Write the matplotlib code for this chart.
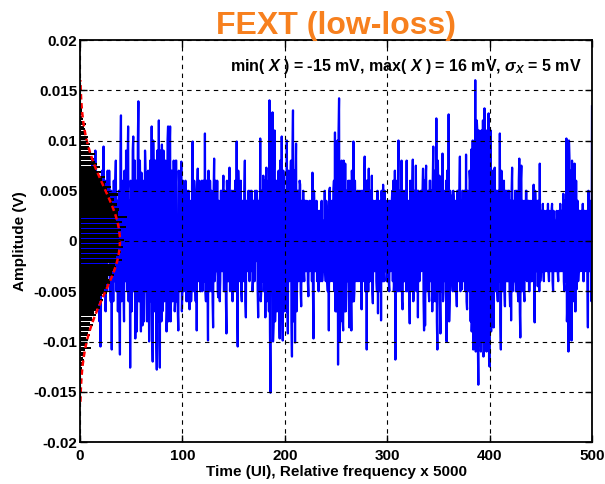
import numpy as np
import matplotlib
matplotlib.use("Agg")
import matplotlib.pyplot as plt

# ---------------- data (signal in mV) ----------------
# samples at integer UI (0..500)
seg_000_049 = [2, -4, 6, -3, 5, -6, 3, 7, -5, 1,
               -7, 4, 8, -2, -6, 9, 3, -4, 6, -8,
               -10.5, 2, 5, 9.4, -3, -7, 4, 7, -2, 3,
               -6, -10.8, 1, 6, -4, 8, 2, -7, 5, -11.3,
               12.5, -3, 6, -8, 3, 9, -5, 11.4, 4, -12.6]
seg_050_099 = [5, -4, 10.4, 2, -9.7, 6, -3, 13.9, -6, 4,
               6.8, -8.4, 3, -5, 7, 6.8, -4, 2, -7, 5,
               11.4, -12, 6, -3, 8, -12.8, 4, 12, -12.6, 3,
               9.6, -6, 5, -3, 7, -7, 11.4, -7.9, 11.4, -5,
               6, -3, 4, -6, 8, 2, -8.9, 5, -4, 7.9]
seg_100_149 = [-5, 4, -3, 6, -6, 3, 5, -6.8, 2, -4,
               9.9, -3, 5, -6, -8.9, 7.2, -2, 4, -5, 6,
               -4, 3, 10.7, -6, 5, -9.9, 2, 6, -5, 4,
               -8.6, 8.2, -3, 5, 6, -5.6, 3, -4, 5, -3,
               6.5, -5, 4, -9.2, 3, -4, 7.3, -2, 5, -6]
seg_150_199 = [4, -5, 3, 9.9, -10.5, 5, -3, 6, -6, 2,
               -4, 8, -7.6, 3, -2, 4, 5, -3, 4, -4,
               3, 5, -2, 4, -7.6, 2, 10.2, -5, 3, 6.5,
               -3, -7.6, 7.3, -4, 6, 14, -15.1, -3, 12.8, -8.4,
               11, -6, 4, -5, 7, -9.7, 5, 10.4, -9.9, 6]
seg_200_249 = [-4, 3, 10, -9.2, 5, -3, 8, -11.5, 13, -6,
               -10.1, 9.7, -4, 5, -3, 5.6, -6.5, 3, 5, -4,
               4, -3, 2, -5.5, 4, -2, 3, 6.8, -9.7, 3,
               -3, 4, -2, -5, 3, -4, 4, -3, 2, 5,
               -4, 3, -5, -8.9, 5.3, -3, 4, -2, 6, 10.8]
seg_250_299 = [4, -6, -12.3, 14.2, 7, -5, 3, -8.9, 4, 7.7,
               -4, 3, 6, -8.6, 2, -8.9, 4, 9.9, -5, 3,
               -3, 5, -2, 4, -4, -6.8, 5, -3, 8.4, -2,
               -10.8, 4, 7.2, -4, 3, 6.5, -6.2, 2, -3, 3.5,
               -5, -7.2, 4, -3, -7.9, 3, 5.6, -4, 2, 4]
seg_300_349 = [-3, 4, -5, 3, -2, 5, 6, -4, -11.8, 3,
               -5, 10, -3, 4, 8, -6.8, 3, -4, 5, 8,
               -4, 3, -8.2, 5, -3, 8.1, -5, 4, 7.5, -3,
               -7.6, 4, -3, 5, 2, 7.2, -8.9, -8.4, 7.5, -4,
               5, -6, 6, -3, -7, 9.4, -5, 6, 12.2, -10.8]
seg_350_399 = [4, 6.5, -9.2, 3, 8.7, -5, 4, -3, -10, 5,
               12.6, -6, 3, 4.5, -5, 4, -3, 3, -6.5, 5,
               -3, 8.4, -4, -4.8, 5, -3, 4, 8.6, -6.8, 3,
               -5, 6, 9.1, -7, -10.8, 7, 16, -6, 11, -14.3,
               -10.4, 8, 11, -7, -11.5, 13.2, -6, -11, 9, 12.7]
seg_400_449 = [-12.5, 11, -5, 6, -8.6, 7.3, -4, 5, -6, 4,
               10.7, -10.8, 5, -4, 6, -6.5, 3, 5, -4, 5,
               -6.5, -7.9, 7.3, -4, 3, 5, -5, 4, -6, 8.2,
               -9.6, 7.5, -4, 3, -6, -3.8, 5, -3, 4, -5,
               3, -4, 4, 5.6, -8.1, 3, -2, -4.5, 3, 7.7]
seg_450_500 = [-3, 2, 3.7, -4, 2, -3, 3, 3.7, -4, 2,
               -3, 3.7, -5, 2, 2, -3, 1, -4, 3, 3.7,
               -3, 2, 4.7, -5, 3, 10.2, -6, -11, 8.2, -5,
               -9.9, 5, -3, 7.7, -7, -4.8, 4, -3, 3, -2,
               2, 3.7, -4, 3, -2, 2, -8.6, 3, -3, 4, 13.4]

# samples at half UI (0.5 .. 499.5)
mid_000_049 = [-3, 5, 1, -5, 7, -2, -4, 2, 6, -5,
               5, -3, -4, 7, 2, -5, 6, 4, -6, 3,
               -4, 7, -5, 2, 6, -3, -5, 3, 7, -4,
               5, 3, -6, 2, 6, -5, 4, 2, -7, 8,
               -6, 4, -5, 7, -4, 2, 8, -6, 3, 6]
mid_050_099 = [-7, 9, -5, 8, 6, -9, 10, -6, 8, -9,
               -6, 6, -8, 9, -5, -8, 7, -10, 8, -6,
               -9, 10, -7, 8, -10, 9, -8, -10, 9, -8,
               -7, 9, -6, 8, -9, 10, -8, 9, -8, 7,
               -6, 8, -7, 8, -6, -7, 7, -5, 6, -7]
mid_100_149 = [6, -5, 4, -4, 5, -6, 3, 4, -6, 7,
               -5, 6, -4, 3, 5, -4, 6, -5, 3, -5,
               6, -4, -5, 6, -4, 7, -5, 3, 5, -6,
               5, -4, 6, -3, -5, 4, -6, 5, -3, 4,
               -5, 5, -6, 6, -4, 5, -5, 4, -5, 5]
mid_150_199 = [-4, 6, -5, -6, 7, -4, 5, -5, 4, -3,
               5, -6, 4, -3, 5, -4, 3, 5, -5, 4,
               -4, 2, 5, -5, 4, -5, -6, 5, -4, -5,
               6, 4, -6, 5, -7, -9, 8, 9, -10, 7,
               -8, 6, -7, 6, -7, 8, -6, -7, 7, -7]
mid_200_249 = [5, -7, -6, 7, -4, 6, -8, 9, -8, 7,
               6, -7, 5, -4, 6, -5, 4, -4, -3, 4,
               -3, 4, -4, 3, -3, 4, -4, -5, 5, -3,
               3, -4, 3, 2, -3, 3, -4, 2, -3, -3,
               4, -4, 3, 5, -4, 3, -4, 5, -5, -7]
mid_250_299 = [-7, 10, 11, -10, -8, 8, -8, 8, -7, -7,
               5, -4, -6, 6, -5, 7, -6, -6, 6, -4,
               4, -4, 5, -4, 5, 4, -4, 5, -5, 6,
               6, -5, -4, 5, -4, -5, 4, -3, 4, -4,
               5, 4, -5, 4, 5, -4, -4, 5, -3, -4]
mid_300_349 = [3, -4, 4, -3, 4, -4, -5, 7, 6, -4,
               6, -5, 5, -5, -6, 5, -4, 5, -5, -5,
               4, -5, 6, -5, 5, -6, 5, -4, -5, 5,
               5, -4, 4, -3, 5, -6, 6, 6, -5, 4,
               -5, 6, -4, 5, 6, -6, 7, -6, -8, 8]
mid_350_399 = [-5, -6, 6, -5, -6, 5, -4, 6, 7, -6,
               -8, 5, -4, -4, 5, -5, 4, -5, 5, -4,
               5, -5, 4, 5, -4, 5, -5, -6, 5, -4,
               7, -8, -9, 10, 8, -10, -11, 12, -10, 11,
               10, -11, -10, 12, -11, -10, 11, 9, -10, -12]
mid_400_449 = [10, -9, 7, -7, 7, -5, 5, -5, 5, -4,
               -8, 7, -5, 5, -5, 5, -4, -4, 5, -5,
               4, 5, -5, 4, -4, -5, 5, -5, 6, -7,
               6, -5, 4, -5, 4, 5, -4, 4, -5, 4,
               -4, 4, -4, -5, 5, -3, 4, 4, -5, -4]
mid_450_499 = [3, -3, -3, 3, -3, 3, -3, -3, 3, -3,
               3, -4, 3, -3, -3, 3, -3, 3, -3, -3,
               3, -3, -4, 4, -4, -8, 9, 10, -8, 7,
               8, -6, 5, -7, 6, 4, -4, 3, -3, 3,
               -3, -4, 3, -3, 3, -4, 5, -3, 3, -6]

# histogram: bins of 0.25 mV from -16 mV to +16 mV (relative frequency x 5000)
hist_bin_lo_mV = -16.0
hist_bin_hi_mV = 16.0
hist_values = [0, 0, 0, 0.3,
               0.4, 0.5, 0.6, 0.8,
               1.0, 1.2, 1.1, 1.5,
               1.8, 2.2, 1.9, 2.6,
               3.5, 2.8, 4.2, 3.6,
               4.4, 11, 5.0, 6.4,
               7.5, 6.2, 9.5, 8.0,
               10.5, 8.8, 12.8, 10.2,
               13.5, 12.0, 15.8, 14.0,
               16.0, 19.5, 17.2, 18.5,
               22.5, 19.8, 21.0, 26.5,
               23.5, 27.8, 25.5, 29.0,
               30.5, 27.2, 33.5, 31.0,
               32.0, 35.5, 33.8, 36.0,
               41.0, 35.5, 37.8, 40.5,
               37.5, 42.0, 38.0, 39.5,
               43.0, 38.5, 40.5, 37.0,
               39.8, 44.5, 36.5, 41.0,
               35.0, 46.0, 36.8, 37.5,
               38.0, 33.2, 36.5, 31.0,
               33.5, 29.0, 37.0, 28.5,
               26.0, 30.5, 24.5, 25.8,
               21.5, 24.0, 19.0, 20.5,
               15.8, 19.8, 17.0, 14.2,
               13.5, 11.5, 14.5, 10.8,
               10.2, 8.5, 9.8, 7.5,
               6.8, 8.2, 5.6, 6.0,
               4.8, 4.0, 5.5, 3.4,
               3.0, 2.4, 2.2, 1.8,
               1.7, 1.4, 1.2, 1.0,
               0.9, 0.7, 0.6, 0.5,
               0.4, 0.3, 0.2, 0.2]

# Gaussian fit parameters
fit_peak = 39.0
fit_sigma_mV = 5.3
fit_range_mV = 16.0

x_ticks = [0, 100, 200, 300, 400, 500]
y_ticks = [-0.02, -0.015, -0.01, -0.005, 0, 0.005, 0.01, 0.015, 0.02]
y_tick_labels = ["-0.02", "-0.015", "-0.01", "-0.005", "0", "0.005", "0.01", "0.015", "0.02"]

title_text = "FEXT (low-loss)"
xlabel_text = "Time (UI), Relative frequency x 5000"
ylabel_text = "Amplitude (V)"
annot_text = r"min( $X$ ) = -15 mV, max( $X$ ) = 16 mV, $\sigma_X$ = 5 mV"

# ---------------- styling ----------------
plt.rcParams['font.family'] = ['Liberation Sans', 'DejaVu Sans']
plt.rcParams['mathtext.fontset'] = 'custom'
plt.rcParams['mathtext.it'] = 'Liberation Sans:italic:bold'
plt.rcParams['mathtext.rm'] = 'Liberation Sans:bold'
plt.rcParams['mathtext.bf'] = 'Liberation Sans:bold'

fig = plt.figure(figsize=(6.05, 4.84), dpi=100)
ax = fig.add_axes([80 / 605, 42 / 484, 512 / 605, 402 / 484])

main_mV = (seg_000_049 + seg_050_099 + seg_100_149 + seg_150_199 + seg_200_249 +
           seg_250_299 + seg_300_349 + seg_350_399 + seg_400_449 + seg_450_500)
mid_mV = (mid_000_049 + mid_050_099 + mid_100_149 + mid_150_199 + mid_200_249 +
          mid_250_299 + mid_300_349 + mid_350_399 + mid_400_449 + mid_450_499)
signal_V = np.empty(len(main_mV) + len(mid_mV))
signal_V[0::2] = np.array(main_mV) * 1e-3
signal_V[1::2] = np.array(mid_mV) * 1e-3
time_ui = np.arange(len(signal_V)) * 0.5
ax.plot(time_ui, signal_V, color='#0000FF', lw=1.6, zorder=1)

edges = np.linspace(hist_bin_lo_mV, hist_bin_hi_mV, len(hist_values) + 1)
centers_V = 0.5 * (edges[:-1] + edges[1:]) * 1e-3
bin_w_V = (edges[1] - edges[0]) * 1e-3
ax.barh(centers_V, hist_values, height=bin_w_V * 0.9, color='black',
        linewidth=0, zorder=1.5)

yy = np.linspace(-fit_range_mV, fit_range_mV, 400)
ax.plot(fit_peak * np.exp(-yy ** 2 / (2 * fit_sigma_mV ** 2)), yy * 1e-3,
        color='red', ls=(0, (2.2, 1.4)), lw=1.8, zorder=2)

ax.set_xlim(0, 500)
ax.set_ylim(-0.02, 0.02)
ax.set_xticks(x_ticks)
ax.set_yticks(y_ticks)
ax.set_yticklabels(y_tick_labels)
ax.set_axisbelow(False)
ax.grid(True, ls=(0, (4, 4)), color='black', lw=0.8)
ax.tick_params(direction='in', top=True, right=True, length=5, width=1,
               labelsize=11)
ax.tick_params(axis='x', pad=5)
ax.tick_params(axis='y', pad=2)
for lbl in ax.get_xticklabels() + ax.get_yticklabels():
    lbl.set_fontweight('bold')
for sp in ax.spines.values():
    sp.set_linewidth(1.3)

ax.set_title(title_text, color='#F7801E', fontsize=23, fontweight='bold', pad=4)
ax.set_xlabel(xlabel_text, fontsize=11, fontweight='bold')
ax.xaxis.set_label_coords(0.5, -0.058)
ax.set_ylabel(ylabel_text, fontsize=11, fontweight='bold')
ax.yaxis.set_label_coords(-0.104, 0.5)

ax.text(0.98, 0.923, annot_text, transform=ax.transAxes, ha='right',
        va='baseline', fontsize=11.5, fontweight='bold', zorder=3)

fig.savefig("out.png", dpi=100)
